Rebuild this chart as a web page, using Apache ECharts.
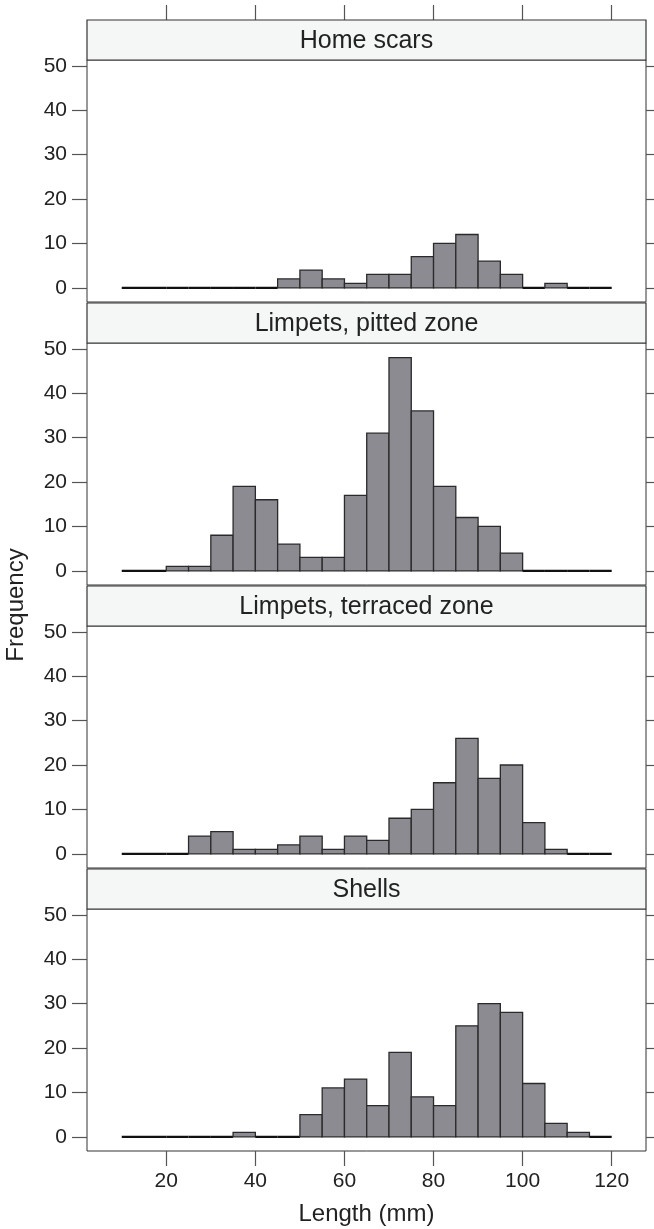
<!DOCTYPE html>
<html>
<head>
<meta charset="utf-8">
<script src="https://cdn.jsdelivr.net/npm/echarts@6/dist/echarts.min.js"></script>
<style>
  html, body { margin: 0; padding: 0; background: #fff; }
  #chart { width: 654px; height: 1229px; }
</style>
</head>
<body>
<div id="chart"></div>
<script>
  // lower edges of the 5 mm bins
  const binStart = [10, 15, 20, 25, 30, 35, 40, 45, 50, 55, 60, 65, 70, 75, 80, 85, 90, 95, 100, 105, 110, 115];
  const binWidth = 5;

  const panelNames = ['Home scars', 'Limpets, pitted zone', 'Limpets, terraced zone', 'Shells'];

  const homeScars = [0, 0, 0, 0, 0, 0, 0, 2, 4, 2, 1, 3, 3, 7, 10, 12, 6, 3, 0, 1, 0, 0];
  const pittedZone = [0, 0, 1, 1, 8, 19, 16, 6, 3, 3, 17, 31, 48, 36, 19, 12, 10, 4, 0, 0, 0, 0];
  const terracedZone = [0, 0, 0, 4, 5, 1, 1, 2, 4, 1, 4, 3, 8, 10, 16, 26, 17, 20, 7, 1, 0, 0];
  const shells = [0, 0, 0, 0, 0, 1, 0, 0, 5, 11, 13, 7, 19, 9, 7, 25, 30, 28, 12, 3, 1, 0];

  const panelValues = [homeScars, pittedZone, terracedZone, shells];

  const xTicks = [20, 40, 60, 80, 100, 120];
  const yTicks = [0, 10, 20, 30, 40, 50];

  const chart = echarts.init(document.getElementById('chart'), null, { renderer: 'canvas' });

  const LEFT = 87;
  const WIDTH = 559;
  const PITCH = 283;
  const STRIP_TOP = 20;
  const STRIP_H = 40;
  const PLOT_H = 242;
  const FONT = '"Liberation Sans", Arial, Helvetica, sans-serif';
  const TICK_COLOR = '#555';
  const TEXT_COLOR = '#222';

  const grids = [];
  const xAxes = [];
  const yAxes = [];
  const series = [];
  const graphics = [];

  const noLine = { show: false, onZero: false };

  panelValues.forEach((vals, i) => {
    const stripTop = STRIP_TOP + PITCH * i;
    grids.push({
      left: LEFT,
      top: stripTop + STRIP_H,
      width: WIDTH,
      height: PLOT_H,
      show: true,
      borderColor: '#333',
      borderWidth: 1,
      backgroundColor: '#fff',
    });

    const isLast = i === panelValues.length - 1;
    xAxes.push({
      type: 'value',
      gridIndex: i,
      min: 2.2,
      max: 127.7,
      position: 'bottom',
      axisLine: noLine,
      splitLine: { show: false },
      axisTick: {
        show: isLast,
        length: 15,
        inside: false,
        customValues: xTicks,
        lineStyle: { color: TICK_COLOR, width: 1.2 },
      },
      axisLabel: {
        show: isLast,
        customValues: xTicks,
        margin: 20,
        fontSize: 21,
        fontFamily: FONT,
        color: TEXT_COLOR,
      },
    });

    yAxes.push({
      type: 'value',
      gridIndex: i,
      min: -3.2,
      max: 51.3,
      position: 'left',
      axisLine: noLine,
      splitLine: { show: false },
      axisTick: {
        show: true,
        length: 15,
        customValues: yTicks,
        lineStyle: { color: TICK_COLOR, width: 1.2 },
      },
      axisLabel: {
        show: true,
        customValues: yTicks,
        margin: 20,
        fontSize: 21,
        fontFamily: FONT,
        color: TEXT_COLOR,
      },
    });
    yAxes.push({
      type: 'value',
      gridIndex: i,
      min: -3.2,
      max: 51.3,
      position: 'right',
      axisLine: noLine,
      splitLine: { show: false },
      axisTick: {
        show: true,
        length: 15,
        customValues: yTicks,
        lineStyle: { color: TICK_COLOR, width: 1.2 },
      },
      axisLabel: { show: false },
    });

    series.push({
      type: 'custom',
      xAxisIndex: i,
      yAxisIndex: i * 2,
      silent: true,
      renderItem: (params, api) => {
        const p0 = api.coord([api.value(0), 0]);
        const p1 = api.coord([api.value(1), api.value(2)]);
        const empty = api.value(2) === 0;
        return {
          type: 'rect',
          shape: {
            x: p0[0],
            y: p1[1],
            width: p1[0] - p0[0],
            height: p0[1] - p1[1],
          },
          style: { fill: '#8c8b92', stroke: empty ? '#111' : '#2a2a2a', lineWidth: empty ? 2.2 : 1.3 },
        };
      },
      data: binStart.map((lo, k) => [lo, lo + binWidth, vals[k]]),
    });

    graphics.push({
      type: 'rect',
      shape: { x: LEFT, y: stripTop, width: WIDTH, height: STRIP_H },
      style: { fill: '#f5f7f6', stroke: '#333', lineWidth: 1.2 },
      z: 10,
    });
    graphics.push({
      type: 'text',
      x: LEFT + WIDTH / 2,
      y: stripTop + STRIP_H / 2 + 1,
      style: {
        text: panelNames[i],
        font: '25px ' + FONT,
        fill: TEXT_COLOR,
        align: 'center',
        verticalAlign: 'middle',
      },
      z: 11,
    });
  });

  // ticks along the top of the first panel, above its strip
  xAxes.push({
    type: 'value',
    gridIndex: 0,
    min: 2.2,
    max: 127.7,
    position: 'top',
    offset: STRIP_H,
    axisLine: noLine,
    splitLine: { show: false },
    axisTick: {
      show: true,
      length: 15,
      customValues: xTicks,
      lineStyle: { color: TICK_COLOR, width: 1.2 },
    },
    axisLabel: { show: false },
  });

  graphics.push({
    type: 'text',
    x: 16,
    y: 605,
    rotation: Math.PI / 2,
    style: {
      text: 'Frequency',
      font: '24px ' + FONT,
      fill: TEXT_COLOR,
      align: 'center',
      verticalAlign: 'middle',
    },
  });
  graphics.push({
    type: 'text',
    x: LEFT + WIDTH / 2,
    y: 1214,
    style: {
      text: 'Length (mm)',
      font: '24px ' + FONT,
      fill: TEXT_COLOR,
      align: 'center',
      verticalAlign: 'middle',
    },
  });

  chart.setOption({
    animation: false,
    grid: grids,
    xAxis: xAxes,
    yAxis: yAxes,
    series: series,
    graphic: graphics,
  });
</script>
</body>
</html>
